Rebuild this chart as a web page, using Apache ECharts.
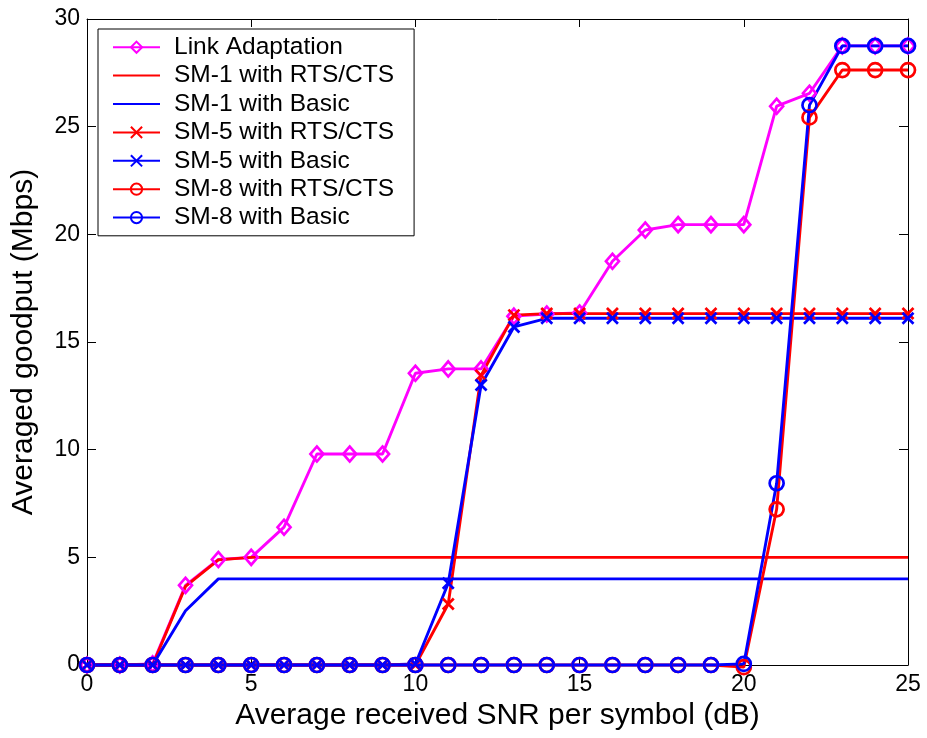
<!DOCTYPE html>
<html>
<head>
<meta charset="utf-8">
<script src="https://cdn.jsdelivr.net/npm/echarts@6/dist/echarts.min.js"></script>
<style>
  html, body { margin: 0; padding: 0; background: #fff; }
  #main { width: 927px; height: 738px; }
</style>
</head>
<body>
<div id="main"></div>
<script>
// x axis: SNR (dB)
var snr = [0, 1, 2, 3, 4, 5, 6, 7, 8, 9, 10, 11, 12, 13, 14, 15, 16, 17, 18, 19, 20, 21, 22, 23, 24, 25];

// goodput (Mbps)
var linkAdapt = [0, 0, 0.05, 3.7, 4.9, 5.0, 6.4, 9.8, 9.8, 9.8, 13.55, 13.75, 13.75, 16.2, 16.3, 16.35, 18.75, 20.2, 20.45, 20.45, 20.45, 25.95, 26.55, 28.75, 28.75, 28.75];
var sm1Rts = [0, 0, 0, 3.65, 4.88, 5.0, 5.0, 5.0, 5.0, 5.0, 5.0, 5.0, 5.0, 5.0, 5.0, 5.0, 5.0, 5.0, 5.0, 5.0, 5.0, 5.0, 5.0, 5.0, 5.0, 5.0];
var sm1Basic = [0, 0, 0, 2.52, 4.0, 4.0, 4.0, 4.0, 4.0, 4.0, 4.0, 4.0, 4.0, 4.0, 4.0, 4.0, 4.0, 4.0, 4.0, 4.0, 4.0, 4.0, 4.0, 4.0, 4.0, 4.0];
var sm5Rts = [0, 0, 0, 0, 0, 0, 0, 0, 0, 0, 0, 2.83, 13.45, 16.25, 16.32, 16.32, 16.32, 16.32, 16.32, 16.32, 16.32, 16.32, 16.32, 16.32, 16.32, 16.32];
var sm5Basic = [0, 0, 0, 0, 0, 0, 0, 0, 0, 0, 0.05, 3.8, 13.0, 15.7, 16.1, 16.1, 16.1, 16.1, 16.1, 16.1, 16.1, 16.1, 16.1, 16.1, 16.1, 16.1];
var sm8Rts = [0, 0, 0, 0, 0, 0, 0, 0, 0, 0, 0, 0, 0, 0, 0, 0, 0, 0, 0, 0, -0.1, 7.23, 25.43, 27.63, 27.63, 27.63];
var sm8Basic = [0, 0, 0, 0, 0, 0, 0, 0, 0, 0, 0, 0, 0, 0, 0, 0, 0, 0, 0, 0, 0.05, 8.44, 26.0, 28.75, 28.75, 28.75];

var xTicks = [0, 5, 10, 15, 20, 25];
var yTicks = [0, 5, 10, 15, 20, 25, 30];

var names = ['Link Adaptation', 'SM-1 with RTS/CTS', 'SM-1 with Basic',
  'SM-5 with RTS/CTS', 'SM-5 with Basic', 'SM-8 with RTS/CTS', 'SM-8 with Basic'];

var MAGENTA = '#ff00ff', RED = '#ff0000', BLUE = '#0000ff';
var FONT = 'Liberation Sans, Arial, sans-serif';
var CROSS = 'path://M0,0L10,10M10,0L0,10';

function pairs(ys) {
  return snr.map(function (x, i) { return [x, ys[i]]; });
}

// one series, MATLAB style (hollow markers)
function mk(name, ys, color, symbol, size) {
  return {
    name: name,
    type: 'line',
    data: pairs(ys),
    clip: false,
    symbol: symbol || 'none',
    symbolSize: size || 0,
    showSymbol: !!symbol,
    lineStyle: { color: color, width: 2.9 },
    itemStyle: { color: 'transparent', borderColor: color, borderWidth: 2.7 },
    emphasis: { disabled: true },
    animation: false
  };
}

// legend entries; the plain lines get no marker
var legendData = names.map(function (n, i) {
  if (i === 1 || i === 2) {
    return { name: n, itemStyle: { color: 'transparent', borderWidth: 0, borderColor: 'transparent' } };
  }
  return { name: n };
});

var chart = echarts.init(document.getElementById('main'), null, { renderer: 'canvas' });

var tickLbl = { color: '#000', fontSize: 23, fontFamily: FONT };

chart.setOption({
  backgroundColor: '#fff',
  textStyle: { fontFamily: FONT },
  grid: { left: 87, right: 19, top: 19, bottom: 73 },
  legend: {
    orient: 'vertical',
    left: 98,
    top: 29,
    data: legendData,
    backgroundColor: '#fff',
    borderColor: '#000',
    borderWidth: 1,
    borderRadius: 0,
    padding: [4, 20, 4, 14],
    itemGap: 0,
    itemWidth: 47,
    itemHeight: 14,
    selectedMode: false,
    textStyle: { color: '#000', fontSize: 24.5, fontFamily: FONT, lineHeight: 28.4, padding: [0, 0, 0, 9] }
  },
  xAxis: [{
    type: 'value', min: 0, max: 25, interval: 5,
    name: 'Average received SNR per symbol (dB)',
    nameLocation: 'middle', nameGap: 36,
    nameTextStyle: { color: '#000', fontSize: 30, fontFamily: FONT },
    axisLine: { onZero: false, lineStyle: { color: '#000', width: 1 } },
    axisTick: { inside: true, length: 8, lineStyle: { color: '#000' } },
    axisLabel: Object.assign({ margin: 8, formatter: function (v) { return xTicks.indexOf(v) >= 0 ? String(v) : ''; } }, tickLbl),
    splitLine: { show: false }
  }, {
    type: 'value', min: 0, max: 25, interval: 5, position: 'top',
    axisLine: { onZero: false, lineStyle: { color: '#000', width: 1 } },
    axisTick: { inside: true, length: 8, lineStyle: { color: '#000' } },
    axisLabel: { show: false },
    splitLine: { show: false }
  }],
  yAxis: [{
    type: 'value', min: 0, max: 30, interval: 5,
    name: 'Averaged goodput (Mbps)',
    nameLocation: 'middle', nameGap: 48,
    nameTextStyle: { color: '#000', fontSize: 30, fontFamily: FONT },
    axisLine: { show: true, onZero: false, lineStyle: { color: '#000', width: 1 } },
    axisTick: { show: true, inside: true, length: 9, lineStyle: { color: '#000' } },
    axisLabel: Object.assign({ margin: 7, formatter: function (v) { return yTicks.indexOf(v) >= 0 ? String(v) : ''; } }, tickLbl),
    splitLine: { show: false }
  }, {
    type: 'value', min: 0, max: 30, interval: 5, position: 'right',
    axisLine: { show: true, onZero: false, lineStyle: { color: '#000', width: 1 } },
    axisTick: { show: true, inside: true, length: 9, lineStyle: { color: '#000' } },
    axisLabel: { show: false },
    splitLine: { show: false }
  }],
  series: [
    mk(names[0], linkAdapt, MAGENTA, 'diamond', [13, 15]),
    mk(names[1], sm1Rts, RED),
    mk(names[2], sm1Basic, BLUE),
    mk(names[3], sm5Rts, RED, CROSS, 11),
    mk(names[4], sm5Basic, BLUE, CROSS, 11),
    mk(names[5], sm8Rts, RED, 'circle', 14),
    mk(names[6], sm8Basic, BLUE, 'circle', 14)
  ]
});
</script>
</body>
</html>
